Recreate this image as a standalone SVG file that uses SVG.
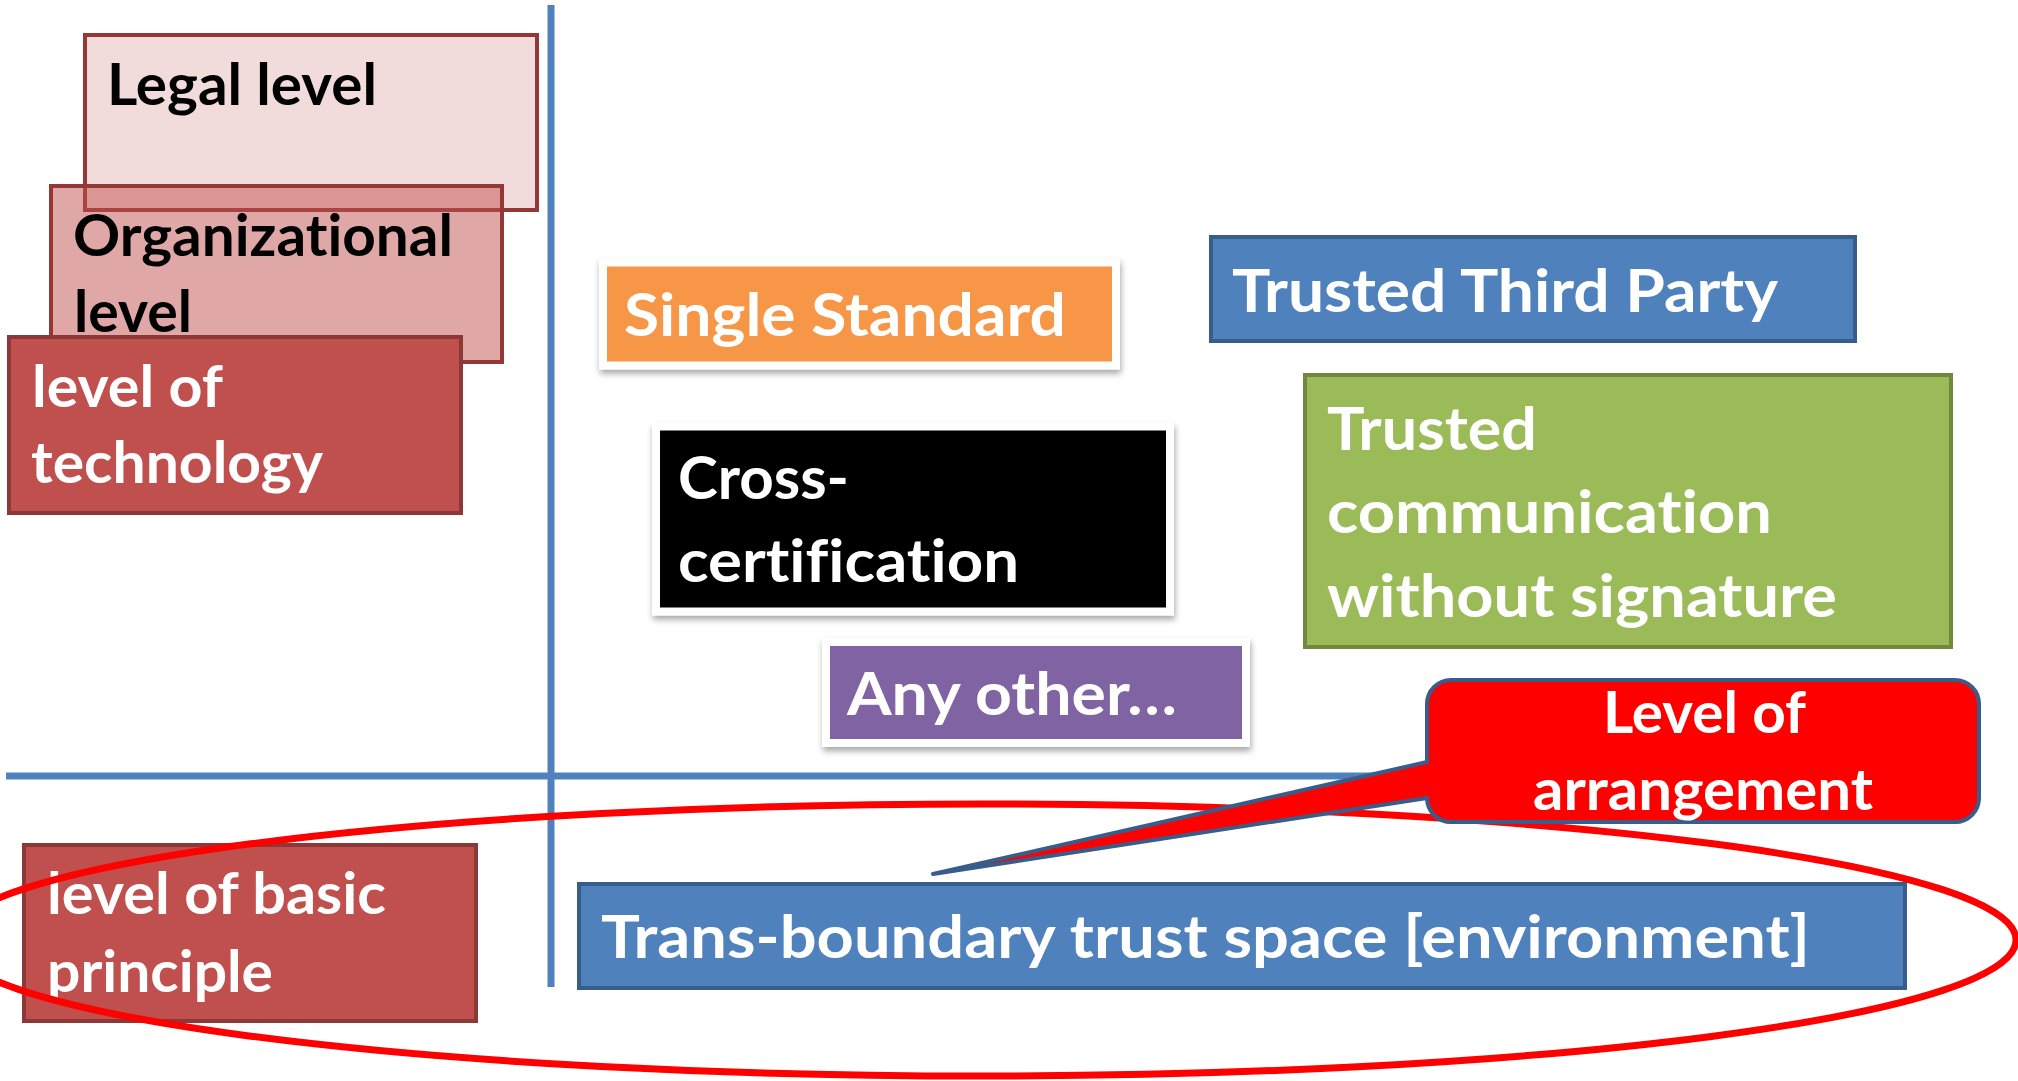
<svg xmlns="http://www.w3.org/2000/svg" width="2018" height="1081" viewBox="0 0 2018 1081">
<defs>
<filter id="shadow" x="-5%" y="-10%" width="110%" height="130%">
<feDropShadow dx="1" dy="4" stdDeviation="3" flood-color="#000" flood-opacity="0.35"/>
</filter>
</defs>
<style>
.t{font-family:Lato,"Liberation Sans",sans-serif;font-weight:bold;font-size:60px;fill:#fff;font-variant-ligatures:none;font-feature-settings:"liga" 0,"clig" 0}
.s{font-size:57px}
.k{fill:#000}
.axis{stroke:#4f81bd;stroke-width:7;fill:none}
.red{fill:#c0504d;stroke:#8c3836;stroke-width:4}
.blue{fill:#4f81bd;stroke:#385d8a;stroke-width:4}
.green{fill:#9bbb59;stroke:#71893f;stroke-width:4}
.framed{stroke:#fff;stroke-width:8;filter:url(#shadow)}
</style>
<rect width="2018" height="1081" fill="#fff"/>
<g id="connectors">
<line class="axis" x1="551" y1="5" x2="551" y2="987"/>
<line class="axis" x1="6" y1="776" x2="1700" y2="776"/>
</g>
<g id="legal-level">
<rect x="85" y="35" width="452" height="175" fill="#f2dcdb" stroke="#953735" stroke-width="4"/>
<text class="t s k" x="107" y="105" textLength="270" lengthAdjust="spacingAndGlyphs">Legal level</text>
</g>
<g id="organizational-level">
<rect x="51" y="186" width="451" height="176" fill="#c0504d" fill-opacity="0.5" stroke="#953735" stroke-width="4"/>
<text class="t s k" x="73" y="256" textLength="380" lengthAdjust="spacingAndGlyphs">Organizational</text>
<text class="t s k" x="74" y="332" textLength="118" lengthAdjust="spacingAndGlyphs">level</text>
</g>
<g id="level-of-technology">
<rect class="red" x="9" y="337" width="452" height="176"/>
<text class="t s" x="32" y="407" textLength="191" lengthAdjust="spacingAndGlyphs">level of</text>
<text class="t s" x="31" y="483" textLength="292" lengthAdjust="spacingAndGlyphs">technology</text>
</g>
<g id="single-standard">
<rect class="framed" x="603" y="262.5" width="513" height="103" fill="#f79646"/>
<text class="t" x="624" y="336" textLength="442" lengthAdjust="spacingAndGlyphs">Single Standard</text>
</g>
<g id="cross-certification">
<rect class="framed" x="656" y="426.5" width="514" height="185" fill="#000"/>
<text class="t" x="678" y="499" textLength="171" lengthAdjust="spacingAndGlyphs">Cross-</text>
<text class="t" x="678" y="582" textLength="341" lengthAdjust="spacingAndGlyphs">certification</text>
</g>
<g id="any-other">
<rect class="framed" x="826" y="642" width="420" height="101" fill="#8064a2"/>
<text class="t" x="847" y="715" textLength="330" lengthAdjust="spacingAndGlyphs">Any other…</text>
</g>
<g id="trusted-third-party">
<rect class="blue" x="1211" y="237" width="644" height="104"/>
<text class="t" x="1232" y="312" textLength="546" lengthAdjust="spacingAndGlyphs">Trusted Third Party</text>
</g>
<g id="trusted-communication">
<rect class="green" x="1305" y="375" width="646" height="272"/>
<text class="t" x="1327" y="450" textLength="210" lengthAdjust="spacingAndGlyphs">Trusted</text>
<text class="t" x="1327" y="533" textLength="445" lengthAdjust="spacingAndGlyphs">communication</text>
<text class="t" x="1327" y="617" textLength="510" lengthAdjust="spacingAndGlyphs">without signature</text>
</g>
<g id="level-of-basic-principle">
<rect class="red" x="24" y="845" width="452" height="176"/>
<text class="t s" x="47" y="914" textLength="339" lengthAdjust="spacingAndGlyphs">level of basic</text>
<text class="t s" x="47" y="992" textLength="226" lengthAdjust="spacingAndGlyphs">principle</text>
</g>
<g id="trans-boundary">
<rect class="blue" x="579" y="884" width="1326" height="104"/>
<text class="t" x="601" y="958" textLength="1209" lengthAdjust="spacingAndGlyphs">Trans-boundary trust space [environment]</text>
</g>
<g id="highlight">
<ellipse cx="982" cy="940" rx="1034" ry="136" fill="none" stroke="#ff0000" stroke-width="7"/>
</g>
<g id="level-of-arrangement">
<path d="M1451 680H1955A24 24 0 0 1 1979 704V798A24 24 0 0 1 1955 822H1451A24 24 0 0 1 1427 798L933 874L1427 762V704A24 24 0 0 1 1451 680Z" fill="#ff0000" stroke="#385d8a" stroke-width="4" stroke-linejoin="round"/>
<text class="t s" x="1603" y="733" textLength="203" lengthAdjust="spacingAndGlyphs">Level of</text>
<text class="t s" x="1533" y="810" textLength="340" lengthAdjust="spacingAndGlyphs">arrangement</text>
</g>
</svg>
